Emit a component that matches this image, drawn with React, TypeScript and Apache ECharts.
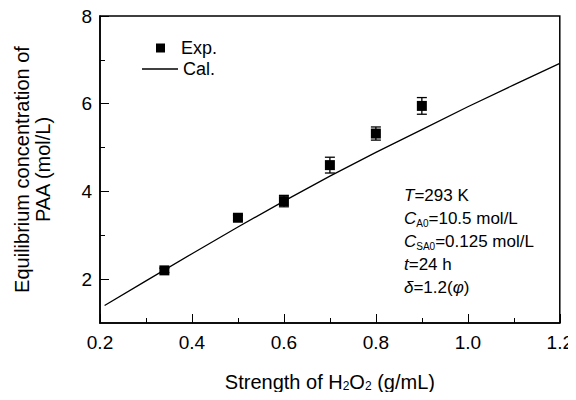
import React, { useEffect, useRef } from "react";
import * as echarts from "echarts";

const calX = [0.21, 0.3, 0.4, 0.5, 0.6, 0.7, 0.8, 0.9, 1.0, 1.1, 1.2];
const calY = [1.4, 1.96, 2.58, 3.19, 3.78, 4.35, 4.89, 5.41, 5.93, 6.43, 6.92];

const expX = [0.34, 0.5, 0.6, 0.7, 0.8, 0.9];
const expY = [2.2, 3.4, 3.78, 4.6, 5.32, 5.95];
const expErr = [0.05, 0.06, 0.13, 0.18, 0.15, 0.19];

const xTicks = [0.2, 0.4, 0.6, 0.8, 1.0, 1.2];
const yMajorTicks = [2, 4, 6, 8];
const yMinorTicks = [3, 5, 7];

const FONT = "'Liberation Sans', Arial, sans-serif";

export default function App() {
  const ref = useRef<HTMLDivElement>(null);
  useEffect(() => {
    if (!ref.current) return;
    const chart = echarts.init(ref.current, null, { renderer: "svg" });
    const calData = calX.map((x, i) => [x, calY[i]]);
    const expData = expX.map((x, i) => [x, expY[i]]);
    const errData = expX.map((x, i) => [x, expY[i] - expErr[i], expY[i] + expErr[i]]);

    const annoLines = [
      "{it|T}{n|=293 K}",
      "{it|C}{sub|A0}{n|=10.5 mol/L}",
      "{it|C}{sub|SA0}{n|=0.125 mol/L}",
      "{it|t}{n|=24 h}",
      "{it|δ}{n|=1.2(}{it|φ}{n|)}",
    ];
    const rich = {
      n: { fontSize: 17, fontFamily: FONT, color: "#000", lineHeight: 20 },
      it: { fontSize: 17, fontFamily: FONT, fontStyle: "italic", color: "#000", lineHeight: 20 },
      sub: { fontSize: 10, fontFamily: FONT, color: "#000", lineHeight: 4, verticalAlign: "bottom" },
    };

    chart.setOption({
      animation: false,
      textStyle: { fontFamily: FONT, color: "#000" },
      grid: {
        left: 100,
        right: 13,
        top: 16,
        bottom: 77,
        show: true,
        borderColor: "#000",
        borderWidth: 1.5,
        backgroundColor: "transparent",
      },
      legend: [
        {
          data: [{ name: "Exp.", icon: "rect" }],
          left: 151,
          top: 34,
          itemWidth: 9,
          itemHeight: 9,
          orient: "vertical",
          selectedMode: false,
          textStyle: { fontSize: 18, fontFamily: FONT, color: "#000", padding: [0, 0, 0, 11] },
        },
        {
          data: [{ name: "Cal.", icon: "rect", itemStyle: { color: "#000" } }],
          left: 137,
          top: 55,
          itemWidth: 36,
          itemHeight: 1.4,
          orient: "vertical",
          selectedMode: false,
          textStyle: { fontSize: 18, fontFamily: FONT, color: "#000", padding: [0, 0, 0, 0] },
        },
      ],
      xAxis: {
        type: "value",
        min: 0.2,
        max: 1.2,
        interval: 0.2,
        name: "Strength of H{sub|2}O{sub|2} (g/mL)",
        nameLocation: "middle",
        nameGap: 49,
        nameTextStyle: {
          fontSize: 20,
          fontFamily: FONT,
          color: "#000",
          rich: {
            sub: { fontSize: 12, fontFamily: FONT, color: "#000", lineHeight: 6, verticalAlign: "bottom" },
          },
        },
        axisLine: { lineStyle: { color: "#000", width: 1.5 } },
        axisTick: { inside: true, length: 9, lineStyle: { color: "#000", width: 1 } },
        minorTick: { show: true, splitNumber: 2, length: 5, lineStyle: { color: "#000", width: 1 } },
        splitLine: { show: false },
        axisLabel: {
          fontSize: 19,
          fontFamily: FONT,
          color: "#000",
          margin: 10,
          customValues: xTicks,
          formatter: (v: number) => v.toFixed(1),
        },
      },
      yAxis: [
        {
          type: "value",
          min: 1,
          max: 8,
          interval: 1,
          name: "Equilibrium concentration of\nPAA (mol/L)",
          nameLocation: "middle",
          nameRotate: 90,
          nameGap: 47,
          nameTextStyle: {
            fontSize: 20,
            fontFamily: FONT,
            color: "#000",
            lineHeight: 21,
          },
          axisLine: { lineStyle: { color: "#000", width: 1.5 } },
          axisTick: { inside: true, length: 9, customValues: yMajorTicks, lineStyle: { color: "#000", width: 1 } },
          splitLine: { show: false },
          axisLabel: {
            fontSize: 19,
            fontFamily: FONT,
            color: "#000",
            margin: 8,
            customValues: yMajorTicks,
            formatter: (v: number) => String(v),
          },
        },
        {
          type: "value",
          min: 1,
          max: 8,
          interval: 1,
          position: "left",
          axisLine: { show: false },
          axisTick: { inside: true, length: 5, customValues: yMinorTicks, lineStyle: { color: "#000", width: 1 } },
          axisLabel: { show: false },
          splitLine: { show: false },
        },
      ],
      graphic: annoLines.map((t, i) => ({
        type: "text",
        left: 404,
        top: 187 + i * 23,
        style: { text: t, rich, fill: "#000" },
      })),
      series: [
        {
          name: "Cal.",
          type: "line",
          data: calData,
          symbol: "none",
          lineStyle: { color: "#000", width: 1.3 },
          itemStyle: { color: "#000" },
          z: 2,
        },
        {
          name: "Exp.",
          type: "scatter",
          data: expData,
          symbol: "rect",
          symbolSize: 10,
          itemStyle: { color: "#000", opacity: 1 },
          z: 4,
        },
        {
          name: "err",
          type: "custom",
          data: errData,
          z: 3,
          renderItem: (params: any, api: any) => {
            const x = api.value(0);
            const lo = api.coord([x, api.value(1)]);
            const hi = api.coord([x, api.value(2)]);
            const w = 5;
            const st = { stroke: "#000", lineWidth: 1.3 };
            return {
              type: "group",
              children: [
                { type: "line", shape: { x1: lo[0], y1: lo[1], x2: hi[0], y2: hi[1] }, style: st },
                { type: "line", shape: { x1: lo[0] - w, y1: lo[1], x2: lo[0] + w, y2: lo[1] }, style: st },
                { type: "line", shape: { x1: hi[0] - w, y1: hi[1], x2: hi[0] + w, y2: hi[1] }, style: st },
              ],
            };
          },
        },
      ],
    });
    return () => chart.dispose();
  }, []);
  return <div ref={ref} style={{ width: 576, height: 400, margin: -8 }} />;
}
